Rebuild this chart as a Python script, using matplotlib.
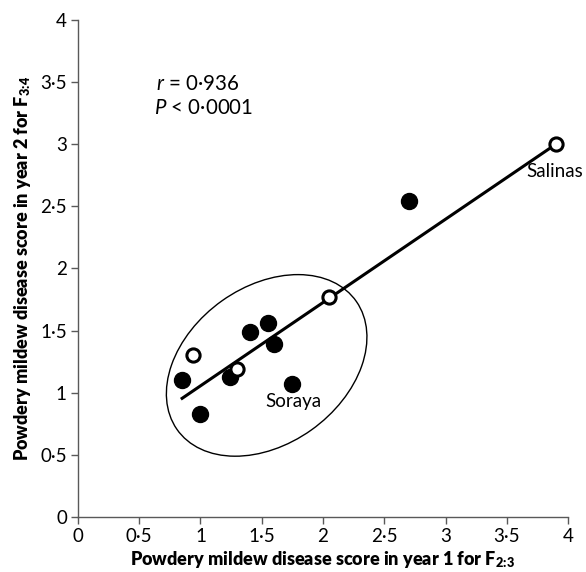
import numpy as np
import matplotlib
matplotlib.use('Agg')
import matplotlib.pyplot as plt
from matplotlib.patches import Ellipse

# 数据：从图上读取
filled_x = [0.85, 1.00, 1.24, 1.40, 1.55, 1.60, 1.75, 2.70]
filled_y = [1.10, 0.83, 1.13, 1.49, 1.56, 1.39, 1.07, 2.54]
open_x = [0.94, 1.30, 2.05, 3.90]
open_y = [1.30, 1.19, 1.77, 3.00]
trend_x = [0.85, 3.90]
trend_y = [0.955, 3.00]

ticks = [0, 0.5, 1, 1.5, 2, 2.5, 3, 3.5, 4]
tick_labels = ['0', '0·5', '1', '1·5', '2', '2·5', '3', '3·5', '4']

plt.rcParams['font.family'] = ['Lato', 'DejaVu Sans']
plt.rcParams['mathtext.fontset'] = 'custom'
plt.rcParams['mathtext.rm'] = 'Lato'
plt.rcParams['mathtext.it'] = 'Lato:italic'
plt.rcParams['mathtext.bf'] = 'Lato:heavy'

fig = plt.figure(figsize=(5.86, 5.72), dpi=100)
ax = fig.add_axes([0.1331, 0.0962, 0.8362, 0.8688])

axis_col = '#595959'

# 椭圆圈出 Soraya 组
ell = Ellipse((1.54, 1.22), width=1.79, height=1.27, angle=35,
              fill=False, edgecolor='black', linewidth=1.0)
ax.add_patch(ell)

# 回归线
ax.plot(trend_x, trend_y, color='black', linewidth=2.2, zorder=3)

# 数据点
ax.plot(filled_x, filled_y, 'o', color='black', markersize=11.5, zorder=4)
ax.plot(open_x, open_y, 'o', markerfacecolor='white', markeredgecolor='black',
        markeredgewidth=2.2, markersize=9.5, zorder=5)

# 标注
ax.text(1.528, 0.928, 'Soraya', fontsize=13.5, va='center', ha='left')
ax.text(3.66, 2.778, 'Salinas', fontsize=13.5, va='center', ha='left')
ax.text(0.637, 3.483, r'$\mathit{r}$ = 0·936', fontsize=14.8, va='center', ha='left')
ax.text(0.62, 3.293, r'$\mathit{P}$ < 0·0001', fontsize=14.8, va='center', ha='left')

ax.set_xlim(0, 4)
ax.set_ylim(0, 4)
ax.set_xticks(ticks)
ax.set_xticklabels(tick_labels)
ax.set_yticks(ticks)
ax.set_yticklabels(tick_labels)

for side in ['top', 'right']:
    ax.spines[side].set_visible(False)
for side in ['left', 'bottom']:
    ax.spines[side].set_color(axis_col)
    ax.spines[side].set_linewidth(1.0)
ax.tick_params(direction='out', length=5, width=1.0, color=axis_col,
               labelsize=13.5, pad=3)

ax.set_xlabel(r'Powdery mildew disease score in year 1 for F$_{\mathbf{2\!:\!3}}$',
              fontsize=13, fontweight='heavy', labelpad=3)
ax.set_ylabel(r'Powdery mildew disease score in year 2 for F$_{\mathbf{3\!:\!4}}$',
              fontsize=13, fontweight='heavy', labelpad=5)

plt.savefig('out.png', dpi=100)
plt.close()
